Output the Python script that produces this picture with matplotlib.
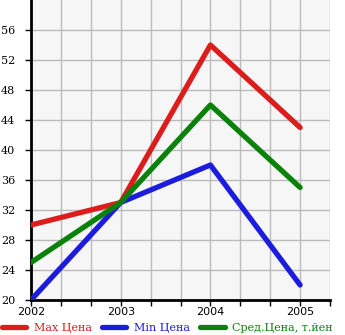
import matplotlib
matplotlib.use("Agg")
import matplotlib.pyplot as plt
from matplotlib.ticker import MultipleLocator

years = [2002, 2003, 2004, 2005]
max_price = [30, 33, 54, 43]
min_price = [20, 33, 38, 22]
avg_price = [25, 33, 46, 35]
labels = ["Max Цена", "Min Цена", "Сред.Цена, т.йен"]
colors = ["#dd1c1c", "#1c1cdd", "#0a820a"]

fig = plt.figure(figsize=(3.45, 3.35), dpi=100)
ax = fig.add_axes([31 / 345, 35 / 335, 299 / 345, 300 / 335])
ax.set_facecolor("#f6f6f6")

for vals, lab, col in zip([max_price, min_price, avg_price], labels, colors):
    ax.plot(years, vals, color=col, lw=3.8, label=lab, solid_capstyle="round", zorder=3)

ax.set_xlim(2002, 2005 + 1 / 3)
ax.set_ylim(20, 60)
ax.xaxis.set_major_locator(MultipleLocator(1))
ax.xaxis.set_minor_locator(MultipleLocator(1 / 3))
ax.set_yticks(range(20, 60, 4))
ax.grid(True, which="both", axis="x", color="#bbbbbb", lw=1)
ax.grid(True, which="major", axis="y", color="#bbbbbb", lw=1)
ax.set_axisbelow(True)

for s in ["top", "right"]:
    ax.spines[s].set_visible(False)
ax.spines["left"].set_linewidth(2)
ax.spines["bottom"].set_linewidth(2)

ax.tick_params(axis="y", length=4, width=1, pad=7.5, labelsize=8,
               labelfontfamily="DejaVu Serif")
ax.tick_params(axis="x", which="both", length=4, width=1, pad=1, labelsize=8)

leg = fig.legend(loc="lower center", bbox_to_anchor=(0.485, -0.025), ncol=3, frameon=False,
                 handlelength=2.2, handletextpad=0.7, columnspacing=0.9,
                 prop={"family": "DejaVu Serif", "size": 8})
for txt, col in zip(leg.get_texts(), colors):
    txt.set_color(col)

fig.savefig("out.png", dpi=100)
